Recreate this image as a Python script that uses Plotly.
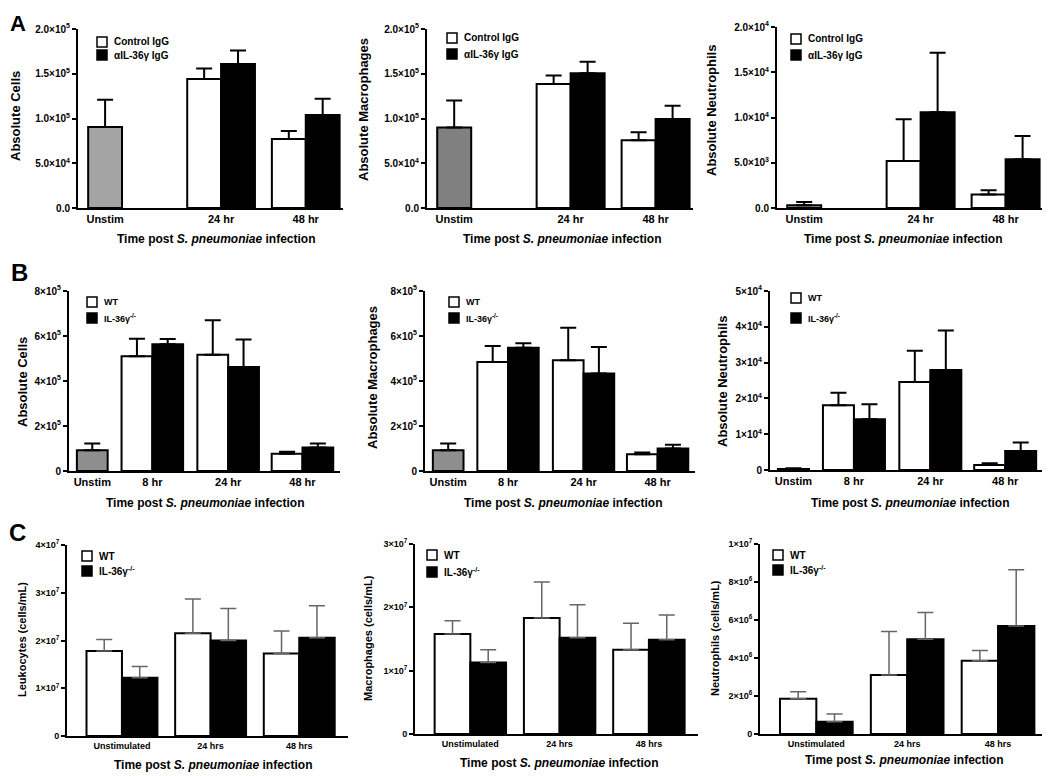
import plotly.graph_objects as go

W, H = 1050, 776
OFF = 8  # page body margin in the browser
FONT = "Arial, 'Liberation Sans', sans-serif"

# ---------------- DATA ----------------
# Panel A (antibody treatment)
A_CATS = ["Unstim", "24 hr", "48 hr"]
A_LEGEND = ["Control IgG", "αIL-36γ IgG"]
A_CELLS_UNSTIM, A_CELLS_UNSTIM_UP = 9.05e4, 1.21e5
A_CELLS_CTRL = [1.44e5, 7.7e4]
A_CELLS_CTRL_UP = [1.56e5, 8.6e4]
A_CELLS_ANTI = [1.61e5, 1.04e5]
A_CELLS_ANTI_UP = [1.76e5, 1.22e5]

A_MAC_UNSTIM, A_MAC_UNSTIM_UP = 9.0e4, 1.2e5
A_MAC_CTRL = [1.385e5, 7.56e4]
A_MAC_CTRL_UP = [1.48e5, 8.45e4]
A_MAC_ANTI = [1.505e5, 9.94e4]
A_MAC_ANTI_UP = [1.635e5, 1.143e5]

A_NEU_UNSTIM, A_NEU_UNSTIM_UP = 3.0e2, 6.5e2
A_NEU_CTRL = [5.2e3, 1.5e3]
A_NEU_CTRL_UP = [9.8e3, 1.96e3]
A_NEU_ANTI = [1.057e4, 5.4e3]
A_NEU_ANTI_UP = [1.716e4, 7.96e3]

# Panel B (WT vs knockout)
B_CATS = ["Unstim", "8 hr", "24 hr", "48 hr"]
B_LEGEND = ["WT", "IL-36γ<sup>-/-</sup>"]
B_CELLS_UNSTIM, B_CELLS_UNSTIM_UP = 9.2e4, 1.22e5
B_CELLS_WT = [5.1e5, 5.17e5, 7.7e4]
B_CELLS_WT_UP = [5.88e5, 6.7e5, 8.6e4]
B_CELLS_KO = [5.63e5, 4.62e5, 1.04e5]
B_CELLS_KO_UP = [5.87e5, 5.84e5, 1.22e5]

B_MAC_UNSTIM, B_MAC_UNSTIM_UP = 9.2e4, 1.22e5
B_MAC_WT = [4.84e5, 4.92e5, 7.4e4]
B_MAC_WT_UP = [5.56e5, 6.37e5, 8.2e4]
B_MAC_KO = [5.48e5, 4.33e5, 9.96e4]
B_MAC_KO_UP = [5.68e5, 5.51e5, 1.17e5]

B_NEU_UNSTIM, B_NEU_UNSTIM_UP = 3.0e2, 5.0e2
B_NEU_WT = [1.81e4, 2.46e4, 1.4e3]
B_NEU_WT_UP = [2.16e4, 3.33e4, 1.87e3]
B_NEU_KO = [1.42e4, 2.79e4, 5.3e3]
B_NEU_KO_UP = [1.84e4, 3.9e4, 7.7e3]

# Panel C (cells/mL)
C_CATS = ["Unstimulated", "24 hrs", "48 hrs"]
C_LEGEND = ["WT", "IL-36γ<sup>-/-</sup>"]
C_LEUK_WT = [1.78e7, 2.15e7, 1.73e7]
C_LEUK_WT_UP = [2.02e7, 2.87e7, 2.2e7]
C_LEUK_KO = [1.22e7, 2.0e7, 2.06e7]
C_LEUK_KO_UP = [1.456e7, 2.67e7, 2.73e7]

C_MAC_WT = [1.58e7, 1.83e7, 1.33e7]
C_MAC_WT_UP = [1.79e7, 2.4e7, 1.75e7]
C_MAC_KO = [1.13e7, 1.52e7, 1.49e7]
C_MAC_KO_UP = [1.33e7, 2.04e7, 1.88e7]

C_NEU_WT = [1.85e6, 3.11e6, 3.85e6]
C_NEU_WT_UP = [2.23e6, 5.39e6, 4.39e6]
C_NEU_KO = [6.5e5, 4.99e6, 5.69e6]
C_NEU_KO_UP = [1.05e6, 6.39e6, 8.65e6]

# tick labels
A_TICKS_AB = [0, 5e4, 1e5, 1.5e5, 2e5]
A_TICKTXT_AB = ["0.0", "5.0×10<sup>4</sup>", "1.0×10<sup>5</sup>", "1.5×10<sup>5</sup>", "2.0×10<sup>5</sup>"]
A_TICKS_N = [0, 5e3, 1e4, 1.5e4, 2e4]
A_TICKTXT_N = ["0.0", "5.0×10<sup>3</sup>", "1.0×10<sup>4</sup>", "1.5×10<sup>4</sup>", "2.0×10<sup>4</sup>"]
B_TICKS_AB = [0, 2e5, 4e5, 6e5, 8e5]
B_TICKTXT_AB = ["0", "2×10<sup>5</sup>", "4×10<sup>5</sup>", "6×10<sup>5</sup>", "8×10<sup>5</sup>"]
B_TICKS_N = [0, 1e4, 2e4, 3e4, 4e4, 5e4]
B_TICKTXT_N = ["0", "1×10<sup>4</sup>", "2×10<sup>4</sup>", "3×10<sup>4</sup>", "4×10<sup>4</sup>", "5×10<sup>4</sup>"]
C_TICKS_L = [0, 1e7, 2e7, 3e7, 4e7]
C_TICKTXT_L = ["0", "1×10<sup>7</sup>", "2×10<sup>7</sup>", "3×10<sup>7</sup>", "4×10<sup>7</sup>"]
C_TICKS_M = [0, 1e7, 2e7, 3e7]
C_TICKTXT_M = ["0", "1×10<sup>7</sup>", "2×10<sup>7</sup>", "3×10<sup>7</sup>"]
C_TICKS_N = [0, 2e6, 4e6, 6e6, 8e6, 1e7]
C_TICKTXT_N = ["0", "2×10<sup>6</sup>", "4×10<sup>6</sup>", "6×10<sup>6</sup>", "8×10<sup>6</sup>", "1×10<sup>7</sup>"]

XTITLE = "Time post <i>S. pneumoniae</i> infection"

# ---------------- LAYOUT (positions / styles) ----------------
POS_A = [0, 1.37, 2.37]; RANGE_A = [-0.32, 2.81]; BW_A = 0.4
POS_B = [0, 0.8, 1.81, 2.8]; RANGE_B = [-0.31, 3.3]; BW_B = 0.41
POS_C = [0, 1, 2]; RANGE_C = [-0.62, 2.55]; BW_C = 0.4

panels = [
    dict(box=(78, 29, 343, 208), pos=POS_A, rng=RANGE_A, bw=BW_A, cats=A_CATS,
         unstim=(A_CELLS_UNSTIM, A_CELLS_UNSTIM_UP), gray="#a4a4a4",
         s1=(A_CELLS_CTRL, A_CELLS_CTRL_UP), s2=(A_CELLS_ANTI, A_CELLS_ANTI_UP),
         ymax=2e5, tv=A_TICKS_AB, tt=A_TICKTXT_AB, ytitle="Absolute Cells",
         leg=A_LEGEND, legpos=(97, 42, 55), ytpos=(16, 116), xtpos=(216, 239), kind="A"),
    dict(box=(427, 29, 693, 208), pos=POS_A, rng=RANGE_A, bw=BW_A, cats=A_CATS,
         unstim=(A_MAC_UNSTIM, A_MAC_UNSTIM_UP), gray="#808080",
         s1=(A_MAC_CTRL, A_MAC_CTRL_UP), s2=(A_MAC_ANTI, A_MAC_ANTI_UP),
         ymax=2e5, tv=A_TICKS_AB, tt=A_TICKTXT_AB, ytitle="Absolute Macrophages",
         leg=A_LEGEND, legpos=(447, 38, 54), ytpos=(364, 110), xtpos=(562, 239), kind="A"),
    dict(box=(777, 27, 1043, 208), pos=POS_A, rng=RANGE_A, bw=BW_A, cats=A_CATS,
         unstim=(A_NEU_UNSTIM, A_NEU_UNSTIM_UP), gray="#a4a4a4",
         s1=(A_NEU_CTRL, A_NEU_CTRL_UP), s2=(A_NEU_ANTI, A_NEU_ANTI_UP),
         ymax=2e4, tv=A_TICKS_N, tt=A_TICKTXT_N, ytitle="Absolute Neutrophils",
         leg=A_LEGEND, legpos=(791, 39, 55), ytpos=(712, 111), xtpos=(903, 239), kind="A"),
    dict(box=(69, 291, 340, 471), pos=POS_B, rng=RANGE_B, bw=BW_B, cats=B_CATS,
         unstim=(B_CELLS_UNSTIM, B_CELLS_UNSTIM_UP), gray="#8e8e8e",
         s1=(B_CELLS_WT, B_CELLS_WT_UP), s2=(B_CELLS_KO, B_CELLS_KO_UP),
         ymax=8e5, tv=B_TICKS_AB, tt=B_TICKTXT_AB, ytitle="Absolute Cells",
         leg=B_LEGEND, legpos=(87, 302, 318), ytpos=(22, 382), xtpos=(205, 503), kind="B"),
    dict(box=(425, 291, 695, 471), pos=POS_B, rng=RANGE_B, bw=BW_B, cats=B_CATS,
         unstim=(B_MAC_UNSTIM, B_MAC_UNSTIM_UP), gray="#8e8e8e",
         s1=(B_MAC_WT, B_MAC_WT_UP), s2=(B_MAC_KO, B_MAC_KO_UP),
         ymax=8e5, tv=B_TICKS_AB, tt=B_TICKTXT_AB, ytitle="Absolute Macrophages",
         leg=B_LEGEND, legpos=(449, 302, 318), ytpos=(372, 378), xtpos=(563, 503), kind="B"),
    dict(box=(770, 291, 1043, 470), pos=POS_B, rng=RANGE_B, bw=BW_B, cats=B_CATS,
         unstim=(B_NEU_UNSTIM, B_NEU_UNSTIM_UP), gray="#8e8e8e",
         s1=(B_NEU_WT, B_NEU_WT_UP), s2=(B_NEU_KO, B_NEU_KO_UP),
         ymax=5e4, tv=B_TICKS_N, tt=B_TICKTXT_N, ytitle="Absolute Neutrophils",
         leg=B_LEGEND, legpos=(791, 298, 318), ytpos=(722, 382), xtpos=(910, 503), kind="B"),
    dict(box=(67, 545, 348, 736), pos=POS_C, rng=RANGE_C, bw=BW_C, cats=C_CATS,
         unstim=None, gray=None,
         s1=(C_LEUK_WT, C_LEUK_WT_UP), s2=(C_LEUK_KO, C_LEUK_KO_UP),
         ymax=4e7, tv=C_TICKS_L, tt=C_TICKTXT_L, ytitle="Leukocytes (cells/mL)",
         leg=C_LEGEND, legpos=(82, 556, 571), ytpos=(22, 640), xtpos=(213, 765), kind="C"),
    dict(box=(415, 544, 698, 734), pos=POS_C, rng=RANGE_C, bw=BW_C, cats=C_CATS,
         unstim=None, gray=None,
         s1=(C_MAC_WT, C_MAC_WT_UP), s2=(C_MAC_KO, C_MAC_KO_UP),
         ymax=3e7, tv=C_TICKS_M, tt=C_TICKTXT_M, ytitle="Macrophages (cells/mL)",
         leg=C_LEGEND, legpos=(427, 555, 572), ytpos=(368, 638), xtpos=(559, 763), kind="C"),
    dict(box=(760, 544, 1048, 734), pos=POS_C, rng=RANGE_C, bw=BW_C, cats=C_CATS,
         unstim=None, gray=None,
         s1=(C_NEU_WT, C_NEU_WT_UP), s2=(C_NEU_KO, C_NEU_KO_UP),
         ymax=1e7, tv=C_TICKS_N, tt=C_TICKTXT_N, ytitle="Neutrophils (cells/mL)",
         leg=C_LEGEND, legpos=(773, 555, 570), ytpos=(715, 638), xtpos=(904, 760), kind="C"),
]


def px_x(x):
    return (x - OFF) / W


def px_y(y):
    return 1 - (y - OFF) / H


fig = go.Figure()
annotations = []
shapes = []

for i, p in enumerate(panels, start=1):
    sfx = "" if i == 1 else str(i)
    xref, yref = "x" + sfx, "y" + sfx
    kind = p["kind"]
    ecol = "#666666" if kind == "C" else "black"
    ethick = 1.5 if kind == "C" else 2
    ewidth = 8
    bw = p["bw"]
    pos = p["pos"]

    def err(vals, ups):
        return dict(type="data", symmetric=False, array=[u - v for v, u in zip(vals, ups)],
                    arrayminus=[0] * len(vals), color=ecol, thickness=ethick, width=ewidth)

    if p["unstim"] is not None:
        v, u = p["unstim"]
        fig.add_trace(go.Bar(x=[pos[0]], y=[v], width=bw, offset=-bw / 2,
                             marker=dict(color=p["gray"], line=dict(color="black", width=2)),
                             error_y=err([v], [u]), xaxis=xref, yaxis=yref, showlegend=False))
        gpos = pos[1:]
    else:
        gpos = pos
    v1, u1 = p["s1"]
    v2, u2 = p["s2"]
    fig.add_trace(go.Bar(x=gpos, y=v1, width=bw, offset=-bw,
                         marker=dict(color="white", line=dict(color="black", width=2)),
                         error_y=err(v1, u1), xaxis=xref, yaxis=yref, showlegend=False))
    fig.add_trace(go.Bar(x=gpos, y=v2, width=bw, offset=0,
                         marker=dict(color="black", line=dict(color="black", width=2)),
                         error_y=err(v2, u2), xaxis=xref, yaxis=yref, showlegend=False))

    x0, y0, x1, y1 = p["box"]
    catsize = 9 if kind == "C" else 11
    ticksize = 9 if kind == "C" else 10
    fig.update_layout(**{
        "xaxis" + sfx: dict(domain=[px_x(x0), px_x(x1)], range=p["rng"], anchor=yref,
                            automargin=False,
                            showline=True, linewidth=2, linecolor="black", ticks="",
                            tickvals=pos, ticktext=p["cats"], showgrid=False, zeroline=False,
                            tickfont=dict(family=FONT, size=catsize, color="black", weight="bold")),
        "yaxis" + sfx: dict(domain=[px_y(y1), px_y(y0)], range=[0, p["ymax"]], anchor=xref,
                            automargin=False,
                            showline=True, linewidth=2, linecolor="black", ticks="outside",
                            ticklen=4, tickwidth=1.5, tickcolor="black",
                            tickvals=p["tv"], ticktext=p["tt"], showgrid=False, zeroline=False,
                            tickfont=dict(family=FONT, size=ticksize, color="black", weight="bold")),
    })

    # y title
    tx, ty = p["ytpos"]
    annotations.append(dict(x=px_x(tx), y=px_y(ty), xref="paper", yref="paper",
                            xanchor="center", yanchor="middle",
                            text="<b>%s</b>" % p["ytitle"], textangle=-90, showarrow=False,
                            font=dict(family=FONT, size=11 if kind == "C" else 13, color="black")))
    # x title
    tx, ty = p["xtpos"]
    annotations.append(dict(x=px_x(tx), y=px_y(ty), xref="paper", yref="paper",
                            xanchor="center", yanchor="middle",
                            text="<b>%s</b>" % XTITLE, showarrow=False,
                            font=dict(family=FONT, size=12, color="black")))
    # legend (manual)
    lx, ly1, ly2 = p["legpos"]
    sq = 10
    for fill, ly, label in ((("white", ly1, p["leg"][0])), ("black", ly2, p["leg"][1])):
        shapes.append(dict(type="rect", xref="paper", yref="paper",
                           x0=px_x(lx), x1=px_x(lx + sq), y0=px_y(ly + sq / 2), y1=px_y(ly - sq / 2),
                           fillcolor=fill, line=dict(color="black", width=1.5)))
        annotations.append(dict(x=px_x(lx + sq + 5), y=px_y(ly), xref="paper", yref="paper",
                                xanchor="left", yanchor="middle", text="<b>%s</b>" % label,
                                showarrow=False,
                                font=dict(family=FONT, size=10 if kind != "B" else 9, color="black")))

# panel letters
for letter, (lx, ly) in zip(["A", "B", "C"], [(18, 23), (19, 272), (17, 532)]):
    annotations.append(dict(x=px_x(lx), y=px_y(ly), xref="paper", yref="paper",
                            xanchor="center", yanchor="middle",
                            text="<b>%s</b>" % letter, showarrow=False,
                            font=dict(family=FONT, size=22 if letter == "A" else 24, color="black")))

fig.update_layout(width=W, height=H, margin=dict(l=0, r=0, t=0, b=0, autoexpand=False),
                  plot_bgcolor="white", paper_bgcolor="white", barmode="overlay",
                  annotations=annotations, shapes=shapes, showlegend=False,
                  font=dict(family=FONT, color="black"))

fig.write_html("out.html")
